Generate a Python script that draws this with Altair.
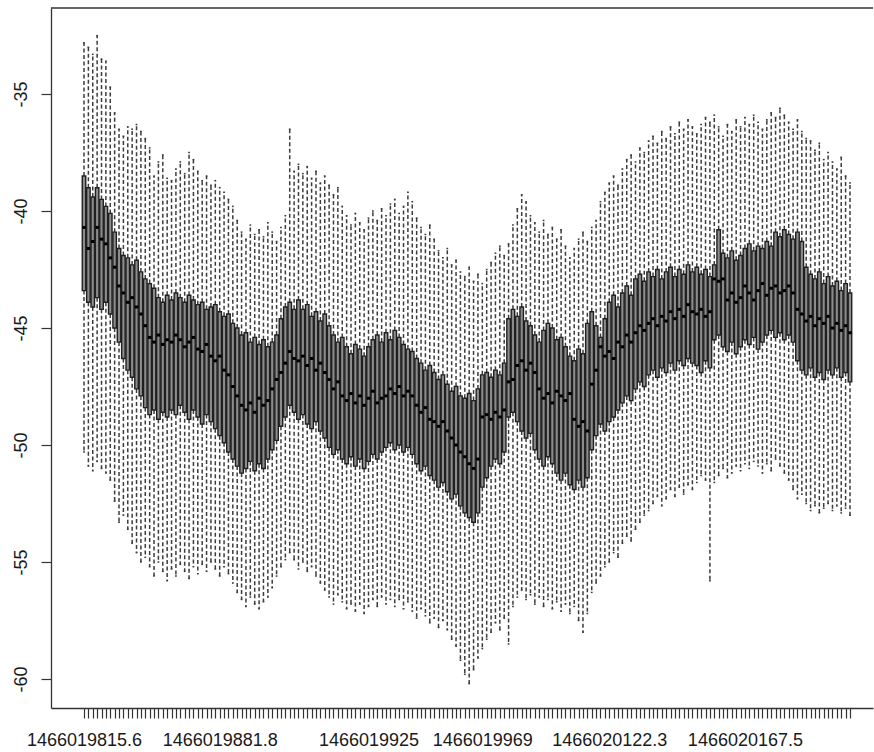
import altair as alt
import pandas as pd

# Five-number summaries per time bin (whisker ends, hinges, median)
upper = [
    -32.8, -33.0, -33.3, -32.5, -33.5, -33.6, -34.7, -35.8, -36.5, -36.8,
    -36.4, -36.5, -36.3, -36.6, -36.9, -37.3, -38.5, -37.9, -37.6, -38.6,
    -38.7, -38.2, -37.9, -38.4, -37.5, -37.8, -38.3, -38.7, -38.5, -38.9,
    -38.7, -39.0, -39.2, -39.5, -39.8, -40.4, -40.9, -41.2, -40.6, -41.0,
    -40.8, -41.1, -40.5, -40.9, -41.3, -40.7, -40.2, -36.5, -38.3, -38.0,
    -38.4, -38.1, -38.6, -38.3, -38.8, -38.5, -38.9, -39.3, -39.0, -39.8,
    -40.2, -40.6, -40.1, -40.5, -40.8, -40.3, -40.0, -40.4, -39.9, -40.2,
    -39.7, -39.5, -40.1, -39.8, -39.2, -39.6, -40.3, -40.7, -41.0, -40.6,
    -41.2, -41.7, -42.0, -41.6, -42.3, -42.1, -42.6, -42.8, -42.4, -43.0,
    -42.7, -43.1, -42.5, -42.2, -41.8, -41.5, -41.9, -41.4, -40.6, -39.9,
    -39.3, -39.6, -40.2, -40.5, -40.9, -40.4, -41.0, -40.7, -41.2, -40.8,
    -41.5, -42.0, -41.6, -41.2, -40.9, -41.3, -40.7, -40.4, -39.6, -39.2,
    -38.8, -38.5, -38.9, -38.2, -37.8, -37.6, -37.9, -37.3, -37.5, -37.0,
    -36.8, -37.1, -36.6, -36.9, -36.4, -36.7, -36.2, -36.5, -36.1, -36.4,
    -36.7, -36.3, -36.0, -36.2, -35.9, -36.4, -36.8, -36.3, -36.6, -36.1,
    -36.4, -36.0, -36.3, -35.9, -36.2, -36.5, -36.1, -35.8, -36.0, -35.6,
    -35.9, -36.2, -36.5, -36.1, -36.6, -36.9, -37.0, -37.4, -37.1, -37.8,
    -37.5, -37.9, -38.2, -37.7, -38.5, -38.8,
]
q3 = [
    -38.5, -39.0, -39.4, -39.0, -39.5, -39.8, -40.1, -40.9, -41.6, -41.9,
    -42.0, -42.3, -42.1, -42.6, -42.9, -43.1, -43.3, -43.7, -43.9, -43.6,
    -43.8, -43.5, -43.7, -43.9, -43.6, -43.8, -44.0, -43.9, -44.2, -44.1,
    -44.0, -44.3, -44.5, -44.4, -44.8, -45.0, -45.3, -45.2, -45.6, -45.4,
    -45.7, -45.5, -45.8, -45.6, -45.3, -44.6, -44.1, -43.9, -44.2, -43.8,
    -44.2, -44.0, -44.5, -44.3, -44.7, -44.4, -44.9, -45.3, -45.6, -45.4,
    -45.8, -46.1, -45.7, -45.9, -46.2, -45.8, -45.5, -45.3, -45.6, -45.2,
    -45.5, -45.1, -45.4, -45.7, -45.9, -46.0, -46.3, -46.5, -46.8, -46.6,
    -46.9, -47.2, -47.0, -47.4, -47.7, -47.5, -47.9, -48.0, -47.8, -48.1,
    -47.6, -47.0, -46.9, -47.1, -46.8, -47.0, -46.5, -44.6, -44.2, -44.5,
    -44.1, -44.7, -44.9, -45.3, -45.6, -45.1, -44.8, -45.0, -45.5, -45.4,
    -45.8, -46.2, -46.4, -45.9, -46.1, -44.8, -44.3, -44.9, -45.4, -44.6,
    -43.9, -43.6, -44.1, -43.5, -43.2, -43.6, -42.9, -42.7, -43.0, -42.6,
    -42.8, -42.5, -42.9, -42.6, -42.4, -42.8, -42.5, -42.7, -42.3, -42.6,
    -42.4, -42.7, -42.5, -42.8, -42.3, -40.8, -41.8, -42.0, -41.7, -42.1,
    -41.9, -41.6, -41.4, -41.7, -41.5, -41.6, -41.3, -41.5, -40.9, -41.1,
    -40.8, -41.0, -41.2, -40.9, -41.3, -42.4, -42.7, -42.9, -42.6, -43.1,
    -42.8, -43.2, -43.0, -43.4, -43.1, -43.5,
]
median = [
    -40.7, -41.6, -41.3, -40.7, -41.2, -41.4, -42.0, -42.4, -43.2, -43.5,
    -43.9, -43.7, -44.1, -44.4, -44.9, -45.4, -45.6, -45.3, -45.7, -45.5,
    -45.6, -45.3, -45.5, -45.8, -45.6, -45.4, -45.9, -46.0, -45.7, -46.2,
    -46.4, -46.2, -46.8, -47.0, -47.5, -47.9, -48.3, -48.5, -48.2, -48.6,
    -48.0, -48.3, -48.1, -47.6, -47.2, -46.9, -46.5, -46.0, -46.3, -46.4,
    -46.2, -46.6, -46.3, -46.8, -46.5, -46.9, -47.2, -47.6, -47.3, -47.9,
    -48.1, -47.8, -48.2, -47.9, -48.3, -48.0, -47.7, -48.2, -48.0, -47.9,
    -47.6, -47.8, -47.5, -47.9, -47.7, -47.9, -48.3, -48.6, -48.4, -48.9,
    -49.0, -49.2, -49.0, -49.4, -49.7, -50.0, -50.3, -50.5, -50.8, -51.0,
    -50.6, -48.8, -48.7, -48.9, -48.6, -48.8, -48.5, -47.3, -47.2, -46.6,
    -46.4, -46.8, -46.5, -46.9, -47.6, -48.0, -47.8, -48.2, -47.7, -47.9,
    -48.1, -47.8, -48.9, -49.2, -49.0, -49.4, -47.4, -46.8, -45.8, -46.2,
    -46.0, -46.3, -45.6, -45.8, -45.3, -45.6, -45.2, -44.9, -45.1, -44.8,
    -44.6, -44.9, -44.5, -44.7, -44.3, -44.6, -44.2, -44.5, -44.0, -44.3,
    -44.4, -44.2, -44.5, -44.3, -42.9, -43.0, -42.9, -43.8, -43.5, -43.9,
    -43.7, -43.2, -43.5, -43.8, -43.4, -43.1, -43.6, -43.3, -43.2, -43.5,
    -43.4, -43.2, -43.5, -44.2, -44.4, -44.7, -44.5, -44.9, -44.6, -44.8,
    -44.5, -45.0, -44.8, -45.1, -44.9, -45.2,
]
q1 = [
    -43.4, -43.9, -44.1, -43.7, -44.2, -43.9, -44.4, -45.0, -45.6, -46.3,
    -46.8, -47.1, -47.6, -47.9, -48.4, -48.7, -48.5, -48.9, -48.6, -48.8,
    -48.5, -48.7, -48.3, -48.6, -48.9, -48.5, -48.8, -49.1, -48.7, -49.0,
    -49.3, -49.6, -49.9, -50.3, -50.6, -50.9, -51.2, -51.0, -50.7, -51.1,
    -50.8, -51.0, -50.6, -50.2, -49.8, -49.2, -48.8, -48.3, -48.6, -48.9,
    -48.7, -49.1, -49.3, -49.0, -49.4, -49.7, -50.1, -50.4, -50.2, -50.6,
    -50.8, -50.5, -50.9, -50.6, -51.0, -50.7, -50.4, -50.6, -50.3, -50.1,
    -49.9, -50.2, -50.0, -50.3, -50.1, -50.4, -50.8, -51.1, -50.9, -51.3,
    -51.5, -51.8, -51.6, -52.0, -52.3, -52.1, -52.6, -52.9, -53.1, -53.3,
    -52.9, -51.8, -51.4, -50.9, -50.6, -50.8, -50.3, -48.8, -48.6, -49.0,
    -49.4, -49.7, -49.5, -50.2, -50.6, -50.9, -50.5, -50.8, -51.2, -51.5,
    -51.2, -51.7, -51.9, -51.5, -51.8, -51.4, -50.2, -49.6, -49.1, -49.4,
    -49.0, -48.8, -48.5, -48.2, -47.9, -48.1, -47.6, -47.3, -47.5, -47.0,
    -46.8, -47.1, -46.7, -46.9, -46.5, -46.8, -46.4, -46.6, -46.3, -46.5,
    -46.6, -46.9, -46.4, -46.7, -45.5, -45.3, -45.8, -46.0, -45.6, -46.1,
    -45.8, -45.5, -45.7, -45.4, -45.9, -45.6, -45.3, -45.1, -45.4, -45.2,
    -45.5, -45.3, -45.6, -46.4, -46.8, -47.0, -46.7, -47.1, -46.9, -47.2,
    -46.8, -47.0, -46.7, -47.1, -46.9, -47.3,
]
lower = [
    -50.3, -50.9, -51.1, -50.7, -51.0, -51.2, -51.5, -52.4, -53.3, -53.0,
    -53.6, -54.2, -54.6, -55.0, -54.8, -55.2, -55.6, -55.0, -55.4, -55.8,
    -55.3, -55.6, -55.1, -55.4, -55.7, -55.2, -55.5, -55.1, -55.4, -55.0,
    -55.3, -55.6, -55.2, -55.5, -55.9, -56.3, -56.6, -56.9, -56.5, -56.8,
    -57.0, -56.7, -56.5, -56.1, -55.6, -55.2, -54.9, -54.6, -54.9, -55.3,
    -55.0, -55.4, -55.2, -55.6, -55.9, -56.2, -56.5, -56.8, -56.4, -56.7,
    -57.0, -56.8, -57.1, -56.8, -57.2, -56.9, -56.6, -56.9, -56.5, -56.8,
    -56.6, -56.9, -56.6, -57.0, -56.7, -57.1, -57.4, -57.0, -57.3, -57.6,
    -57.4, -57.8, -57.5, -57.9, -58.3, -58.6, -59.2, -59.8, -60.2, -59.6,
    -59.1, -58.7, -58.3, -58.0, -57.6, -57.9, -57.4, -58.5, -56.9, -56.5,
    -56.2, -56.6, -56.4, -56.8, -56.5, -56.9, -56.6, -57.0, -56.7, -57.1,
    -56.8, -57.2, -56.9, -57.5, -58.0, -57.2, -56.3, -55.9, -55.6, -55.2,
    -55.0, -54.6, -54.8, -54.2, -53.9, -54.1, -53.6, -53.3, -53.0, -52.8,
    -52.5, -52.2, -52.6, -52.3, -51.9, -52.2, -51.8, -52.1, -51.7, -51.9,
    -51.6, -51.3, -51.5, -55.8, -51.6, -51.3, -51.0, -51.4, -51.2, -50.9,
    -51.1, -50.8, -51.0, -50.7, -50.9, -51.2, -50.8, -51.1, -50.6, -50.9,
    -51.2, -51.5, -51.9, -52.3, -52.1, -52.5, -52.8, -52.6, -52.9, -52.7,
    -52.5, -52.8, -52.6, -52.9, -52.7, -53.0,
]

# Axis labels shown under selected bins (the rest are dropped to avoid overlap)
label_bins = [1, 32, 66, 92, 121, 152]
label_text = ["1466019815.6", "1466019881.8", "1466019925",
              "1466019969", "1466020122.3", "1466020167.5"]
y_ticks = [-60, -55, -50, -45, -40, -35]

n = len(median)
df = pd.DataFrame({
    "bin": list(range(1, n + 1)),
    "upper": upper, "q3": q3, "median": median, "q1": q1, "lower": lower,
})

W, H = 822, 700
FONT = "Liberation Sans"
INK = "#1a1a1a"
WHISKER = "#3c3c3c"

label_expr = " : ".join(
    f"datum.value == {b} ? '{t}'" for b, t in zip(label_bins, label_text)
) + " : ''"

x_scale = alt.Scale(domain=[-6.54, 181.26], nice=False, zero=False)
y_scale = alt.Scale(domain=[-61.24, -31.32], nice=False, zero=False)

x_axis = alt.Axis(
    title=None, values=list(range(1, n + 1)), labelExpr=label_expr,
    labelOverlap=False, labelFlush=False, labelBound=False,
    tickSize=10, tickColor="#333333", tickWidth=1.2, domainColor="#333333",
    domainWidth=1.3, grid=False,
    labelFont=FONT, labelFontSize=18, labelColor=INK, labelPadding=13,
    labelAngle=0, labelAlign="center", labelBaseline="top",
)
y_axis = alt.Axis(
    title=None, values=y_ticks, labelExpr="'' + datum.value",
    tickSize=10, tickColor="#333333", tickWidth=1.2, domainColor="#333333",
    domainWidth=1.3, grid=False,
    labelFont=FONT, labelFontSize=18, labelColor=INK, labelPadding=15,
    labelAngle=-90, labelAlign="center", labelBaseline="alphabetic",
)

base = alt.Chart(df).transform_calculate(
    bl="datum.bin - 0.4", br="datum.bin + 0.4",
    sl="datum.bin - 0.2", sr="datum.bin + 0.2",
)

dash = [4, 2.5]

whisk_up = base.mark_rule(color=WHISKER, strokeWidth=1.5, strokeDash=dash).encode(
    x=alt.X("bin:Q", scale=x_scale, axis=x_axis),
    y=alt.Y("q3:Q", scale=y_scale, axis=y_axis),
    y2="upper:Q",
)
whisk_lo = base.mark_rule(color=WHISKER, strokeWidth=1.5, strokeDash=dash).encode(
    x=alt.X("bin:Q", scale=x_scale, axis=x_axis),
    y=alt.Y("q1:Q", scale=y_scale, axis=y_axis),
    y2="lower:Q",
)
staple_up = base.mark_rule(color=WHISKER, strokeWidth=1.5).encode(
    x=alt.X("sl:Q", scale=x_scale, axis=x_axis), x2="sr:Q",
    y=alt.Y("upper:Q", scale=y_scale, axis=y_axis),
)
staple_lo = base.mark_rule(color=WHISKER, strokeWidth=1.5).encode(
    x=alt.X("sl:Q", scale=x_scale, axis=x_axis), x2="sr:Q",
    y=alt.Y("lower:Q", scale=y_scale, axis=y_axis),
)
boxes = base.mark_rect(fill="#8c8c8c", stroke="#202020", strokeWidth=1.4).encode(
    x=alt.X("bl:Q", scale=x_scale, axis=x_axis), x2="br:Q",
    y=alt.Y("q1:Q", scale=y_scale, axis=y_axis), y2="q3:Q",
)
medians = base.mark_rule(color="black", strokeWidth=3).encode(
    x=alt.X("bl:Q", scale=x_scale, axis=x_axis), x2="br:Q",
    y=alt.Y("median:Q", scale=y_scale, axis=y_axis),
)
top_edge = alt.Chart(pd.DataFrame({"edge": [0]})).mark_rule(
    color="#333333", strokeWidth=1.3
).encode(x=alt.value(0), x2=alt.value(W), y=alt.value(0))

chart = alt.layer(
    whisk_up, whisk_lo, staple_up, staple_lo, boxes, medians, top_edge
).properties(
    width=W, height=H, autosize="none",
    padding={"left": 51, "top": 8, "right": 1, "bottom": 44},
    background="white",
).configure_view(strokeWidth=0)

chart.save("out.html", embed_options={"renderer": "svg", "actions": False})
